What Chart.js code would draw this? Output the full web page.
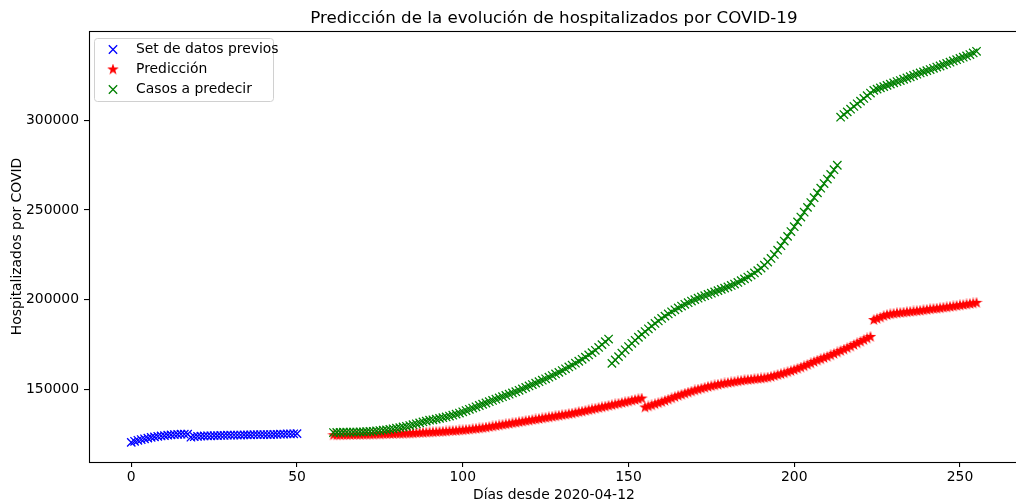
<!DOCTYPE html>
<html><head><meta charset="utf-8">
<script src="https://cdn.jsdelivr.net/npm/chart.js@4.4.1/dist/chart.umd.min.js"></script>
<style>html,body{margin:0;padding:0;background:#fff;overflow:hidden;width:1016px;height:502px}canvas{display:block}</style>
</head><body><canvas id="c" width="1026" height="502"></canvas>
<script>
// ---- data ----
const blueStartDay = 0;
const blueValues = [120300,120900,121500,121900,122300,122700,123100,123400,123700,123900,124100,124300,124500,124700,124800,124900,124900,124900,123200,123500,123700,123800,123900,124000,124000,124100,124100,124200,124200,124300,124300,124400,124400,124400,124500,124500,124500,124600,124600,124600,124700,124700,124700,124800,124800,124900,124900,125000,125000,125100,125200];
const predStartDay = 61;
const predValues = [
124300,124300,124400,124400,124400,124500,124500,124500,124600,124600,
124600,124700,124700,124800,124800,124900,124900,125000,125000,125100,
125100,125200,125300,125300,125400,125500,125600,125700,125800,125900,
126000,126100,126200,126300,126400,126600,126700,126800,127000,127100,
127300,127500,127700,127900,128100,128300,128600,128900,129200,129500,
129800,130100,130400,130700,131000,131300,131600,131900,132200,132500,
132800,133100,133400,133700,134000,134300,134600,134900,135200,135500,
135800,136100,136400,136800,137200,137500,137900,138300,138700,139100,
139500,139900,140300,140700,141100,141500,141900,142300,142700,143100,
143600,144000,144400,144800,
139800,140400,141000,141600,142200,142800,
143500,144200,144900,145600,146300,146900,147500,148100,148700,149300,
149800,150300,150800,151300,151700,152100,152500,152900,153200,153500,
153800,154100,154400,154700,155000,155200,155400,155600,155800,156000,
156200,156500,156900,157400,157900,158400,158900,159500,160100,160700,
161400,162100,162800,163600,164400,165200,166000,166700,167400,168100,
168900,169700,170500,171300,172100,172900,173800,174700,175600,176500,177400,178300,179200,
188600,189300,190000,190800,191400,191800,192100,192400,192600,192800,193000,193200,193400,193600,193800,194100,
194300,194600,194800,195000,195200,195500,195700,196000,196200,196500,196800,197000,197300,197600,197900,198200];
const realValues = [
125800,125900,125900,126000,126000,126100,126100,126100,126200,126200,
126300,126400,126500,126700,126900,127100,127300,127600,127900,128200,
128500,128900,129300,129700,130200,130700,131200,131700,132200,132700,
132900,133300,133700,134100,134500,135000,135500,136100,136700,137400,
138100,138800,139500,140200,140900,141600,142300,143000,143700,144400,
145100,145800,146500,147200,147900,148600,149400,150200,151000,151800,
152600,153400,154200,155000,155800,156700,157600,158500,159400,160400,
161400,162400,163400,164500,165600,166700,167900,169100,170400,171700,
173300,174900,176500,178000,
164400,166300,168200,170100,172000,173800,
175600,177300,179000,180600,182200,183700,185200,186700,188100,189500,
190800,192000,193200,194300,195400,196400,197400,198300,199200,200000,
200800,201500,202200,202900,203600,204300,205000,205700,206400,207100,
207900,208700,209600,210600,211600,212600,213700,214900,216200,217600,
219200,221000,223000,225200,227600,230100,232700,235300,238000,240700,
243400,246100,248800,251500,254200,256900,259600,262200,264800,267300,
269900,272500,275000,
301800,303300,304800,306300,307800,309300,310800,312300,313800,315300,316800,
317500,318200,318900,319600,320300,321000,321700,322300,323000,323700,324400,325100,325800,326500,327100,327800,
328400,329100,329800,330400,331100,331800,332500,333200,333900,334600,335300,336000,336800,337700,338600];
const xTickValues = [0, 50, 100, 150, 200, 250];
const yTickValues = [150000, 200000, 250000, 300000];
const seriesNames = ['Set de datos previos', 'Predicción', 'Casos a predecir'];
const titleText = 'Predicción de la evolución de hospitalizados por COVID-19';
const xLabel = 'Días desde 2020-04-12';
const yLabel = 'Hospitalizados por COVID';

// ---- styling ----
const FONT = "'DejaVu Sans', sans-serif";
const FS = 13.9;
const BLUE = '#0000ff', RED = '#ff0000', GREEN = '#008000';

function toPoints(start, vals) { return vals.map((v, i) => ({x: start + i, y: v})); }

function makeStar(color) {
  const c = document.createElement('canvas');
  c.width = 12; c.height = 12;
  const g = c.getContext('2d');
  const R = 4.17, r = R * 0.381966;
  g.beginPath();
  for (let i = 0; i < 10; i++) {
    const rad = (i % 2 === 0) ? R : r;
    const a = -Math.PI / 2 + i * Math.PI / 5;
    const px = 6 + rad * Math.cos(a), py = 6 + rad * Math.sin(a);
    if (i === 0) g.moveTo(px, py); else g.lineTo(px, py);
  }
  g.closePath();
  g.fillStyle = color; g.fill();
  g.lineWidth = 1.2; g.strokeStyle = color; g.stroke();
  return c;
}
const starImg = makeStar(RED);

function drawX(ctx, x, y, color) {
  const h = 4.17;
  ctx.save();
  ctx.strokeStyle = color; ctx.lineWidth = 1.3;
  ctx.beginPath();
  ctx.moveTo(x - h, y - h); ctx.lineTo(x + h, y + h);
  ctx.moveTo(x - h, y + h); ctx.lineTo(x + h, y - h);
  ctx.stroke();
  ctx.restore();
}

const framePlugin = {
  id: 'frame',
  afterDatasetsDraw(chart) {
    const {ctx, chartArea: a} = chart;
    ctx.save();
    ctx.strokeStyle = '#000'; ctx.lineWidth = 1.1;
    ctx.strokeRect(a.left + 0.5, a.top + 0.5, a.right - a.left, a.bottom - a.top);
    ctx.restore();
  },
  afterDraw(chart) {
    const {ctx, chartArea: a} = chart;
    ctx.save();
    // title centred over the axes
    ctx.fillStyle = '#000';
    ctx.font = '16.7px ' + FONT;
    ctx.textAlign = 'center'; ctx.textBaseline = 'alphabetic';
    ctx.fillText(titleText, (a.left + a.right) / 2, a.top - 8);
    // legend
    const bx = 94.5, by = 38.5, bw = 179, bh = 63;
    ctx.beginPath();
    if (ctx.roundRect) ctx.roundRect(bx, by, bw, bh, 3); else ctx.rect(bx, by, bw, bh);
    ctx.fillStyle = 'rgba(255,255,255,0.8)'; ctx.fill();
    ctx.strokeStyle = '#d0d0d0'; ctx.lineWidth = 1; ctx.stroke();
    const rows = [49.5, 69.5, 89.5];
    drawX(ctx, 113, rows[0], BLUE);
    ctx.drawImage(starImg, 113 - 6, rows[1] - 6);
    drawX(ctx, 113, rows[2], GREEN);
    ctx.fillStyle = '#000';
    ctx.font = FS + 'px ' + FONT;
    ctx.textAlign = 'left'; ctx.textBaseline = 'middle';
    seriesNames.forEach((n, i) => ctx.fillText(n, 136, rows[i]));
    ctx.restore();
  }
};

new Chart(document.getElementById('c'), {
  type: 'scatter',
  data: {
    datasets: [
      {label: seriesNames[0], data: toPoints(blueStartDay, blueValues), pointStyle: 'crossRot',
       pointRadius: 5.9, pointBorderWidth: 1.3, borderColor: BLUE, backgroundColor: BLUE, order: 2},
      {label: seriesNames[1], data: toPoints(predStartDay, predValues), pointStyle: starImg,
       pointRadius: 5, borderColor: RED, backgroundColor: RED, order: 1},
      {label: seriesNames[2], data: toPoints(predStartDay, realValues), pointStyle: 'crossRot',
       pointRadius: 5.9, pointBorderWidth: 1.3, borderColor: GREEN, backgroundColor: GREEN, order: 0}
    ]
  },
  options: {
    responsive: false,
    animation: false,
    devicePixelRatio: 1,
    layout: {padding: {top: 31, right: 1, left: 0, bottom: 0}},
    plugins: {legend: {display: false}, tooltip: {enabled: false}, title: {display: false}},
    scales: {
      x: {
        type: 'linear', min: -12.75, max: 267.75,
        afterFit: s => { s.height = 40; },
        afterBuildTicks: s => { s.ticks = xTickValues.map(v => ({value: v})); },
        grid: {drawOnChartArea: false, drawTicks: true, tickLength: 5, color: '#000', lineWidth: 1.1},
        border: {display: false},
        ticks: {padding: 2, color: '#000', font: {family: FONT, size: FS}, maxRotation: 0, autoSkip: false,
                callback: v => String(v)},
        title: {display: true, text: xLabel, color: '#000', font: {family: FONT, size: FS, lineHeight: 1.0}, padding: {top: 0, bottom: 0}}
      },
      y: {
        type: 'linear', min: 109365, max: 349935,
        afterFit: s => { s.width = 89; },
        afterBuildTicks: s => { s.ticks = yTickValues.map(v => ({value: v})); },
        grid: {drawOnChartArea: false, drawTicks: true, tickLength: 5, color: '#000', lineWidth: 1.1},
        border: {display: false},
        ticks: {padding: 5, color: '#000', font: {family: FONT, size: FS}, autoSkip: false,
                callback: v => String(v)},
        title: {display: true, text: yLabel, color: '#000', font: {family: FONT, size: FS}, padding: {top: 9.5, bottom: 0}}
      }
    }
  },
  plugins: [framePlugin]
});
</script>
</body></html>
